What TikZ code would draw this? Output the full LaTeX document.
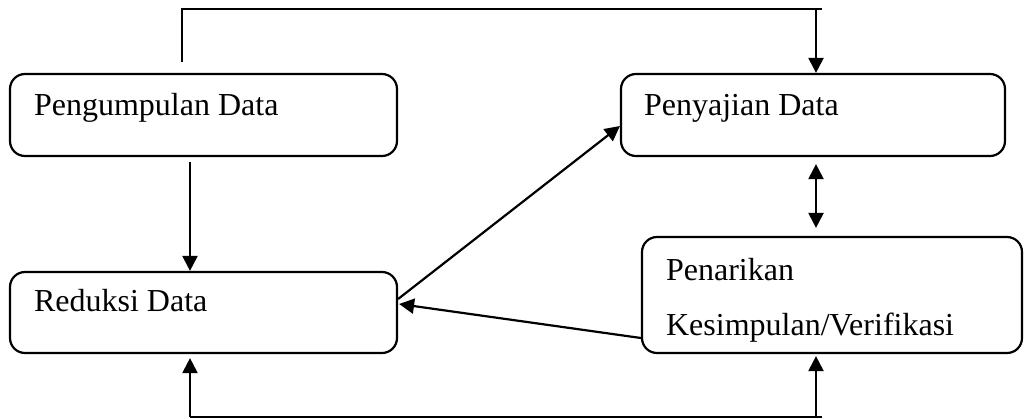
\documentclass[tikz,border=0pt]{standalone}
\usepackage{fontspec}
\setmainfont{Liberation Serif}
\usetikzlibrary{arrows.meta}
\tikzset{
  box/.style={draw, line width=2.2pt, rounded corners=15pt, inner sep=0pt},
  txt/.style={anchor=base west, inner sep=0pt, font=\fontsize{32}{38}\selectfont},
  wire/.style={line width=2.2pt},
  arr/.style={wire, -{Triangle[length=15pt,width=15pt]}},
  arrboth/.style={wire, {Triangle[length=15pt,width=15pt]}-{Triangle[length=15pt,width=15pt]}}
}
\begin{document}
\begin{tikzpicture}[x=1pt,y=-1pt]
\useasboundingbox (0,0) rectangle (1025,418);

\node[box, minimum width=387pt, minimum height=82pt] (peng) at (203.5,115) {};
\node[txt] (pengT) at ([shift={(25,43)}]peng.north west) {Pengumpulan Data};

\node[box, minimum width=384pt, minimum height=82pt] (peny) at (813,115) {};
\node[txt] (penyT) at ([shift={(24,43)}]peny.north west) {Penyajian Data};

\node[box, minimum width=387pt, minimum height=81pt] (redu) at (203.5,312.5) {};
\node[txt] (reduT) at ([shift={(25,41)}]redu.north west) {Reduksi Data};

\node[box, minimum width=380pt, minimum height=116pt] (pena) at (832,295) {};
\node[txt] (penaT) at ([shift={(25,45)}]pena.north west) {Penarikan};
\node[txt] (kesT) at ([shift={(25,100)}]pena.north west) {Kesimpulan/Verifikasi};

\coordinate (topL) at (182,62);
\coordinate (topR) at (822,9);
\coordinate (topD) at (816,9);
\draw[wire] (topL) |- (topR);
\draw[arr] (topD) -- (topD |- peny.north);

\coordinate (pr) at (190,162);
\draw[arr] (pr) -- (pr |- redu.north);

\draw[arr] ([yshift=13.5pt]redu.east) -- ([yshift=-11pt]peny.west);
\draw[arr] ([yshift=-43pt]pena.west) -- ([yshift=8.5pt, xshift=1pt]redu.east);

\coordinate (mid) at (816,200);
\draw[arrboth, shorten <=7pt, shorten >=8pt] (mid |- peny.south) -- (mid |- pena.north);

\coordinate (botL) at (190,417);
\coordinate (botR) at (822,417);
\coordinate (botM) at (816,417);
\draw[wire] (botL) -- (botR);
\draw[arr, shorten >=4pt] (botL) -- (botL |- redu.south);
\draw[arr, shorten >=2pt] (botM) -- (botM |- pena.south);
\end{tikzpicture}
\end{document}
